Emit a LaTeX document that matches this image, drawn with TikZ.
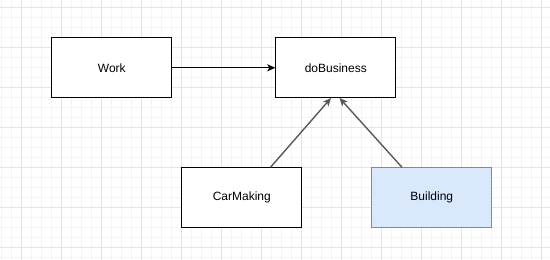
\documentclass[tikz,border=0pt]{standalone}
\usepackage{fontspec}
\setmainfont{Liberation Sans}
\usetikzlibrary{arrows.meta}
\definecolor{minorgrid}{HTML}{F4F4F4}
\definecolor{majorgrid}{HTML}{E4E4E4}
\definecolor{bfill}{HTML}{DAE8FC}
\definecolor{bline}{HTML}{6C8EBF}
\definecolor{edgegray}{HTML}{595959}
\tikzset{
  box/.style={draw=black, line width=1pt, minimum width=120pt, minimum height=60pt,
    inner sep=0pt, anchor=north west, font=\fontsize{12}{14}\selectfont, fill=white},
  bluebox/.style={box, fill=bfill, draw=bline},
  link/.style={line width=1pt, -{Stealth[length=8pt,width=7pt,inset=2pt]}},
}
\begin{document}
\begin{tikzpicture}[x=1pt,y=-1pt]
\useasboundingbox (0,0) rectangle (550,260);
\fill[white] (0,0) rectangle (550,260);
% minor grid
\foreach \x in {1.3,11.3,...,550} \draw[minorgrid, line width=1pt] (\x,0) -- (\x,260);
\foreach \y in {7.3,17.3,...,260} \draw[minorgrid, line width=1pt] (0,\y) -- (550,\y);
% major grid
\foreach \x in {21.3,61.3,...,550} \draw[majorgrid, line width=1pt] (\x,0) -- (\x,260);
\foreach \y in {7.3,47.3,...,260} \draw[majorgrid, line width=1pt] (0,\y) -- (550,\y);

\node[box] (work) at (51.3,37.3) {Work};
\node[box] (biz) at (275.3,37.3) {doBusiness};
\node[box] (car) at (181.3,167.3) {CarMaking};
\node[bluebox] (bld) at (371.3,167.3) {Building};

\coordinate (t1) at (331,98);
\coordinate (t2) at (339.5,98);
\draw[link] (work.east) -- (biz.west);
\draw[link, edgegray, line width=1.4pt] (car.north -| 270.5,0) -- (t1);
\draw[link, edgegray, line width=1.4pt] (bld.north -| 402,0) -- (t2);
\end{tikzpicture}
\end{document}
